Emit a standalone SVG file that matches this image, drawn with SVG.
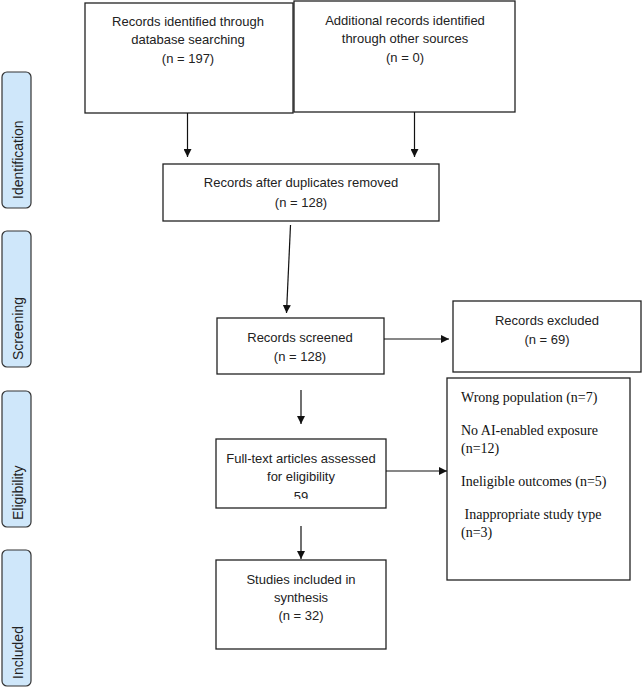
<svg xmlns="http://www.w3.org/2000/svg" width="642" height="688" viewBox="0 0 642 688">
<style>
.box{fill:#fff;stroke:#222;stroke-width:1.3}
.side{fill:#cfe7fa;stroke:#333;stroke-width:1.2}
.t{font-family:"Liberation Sans",Arial,sans-serif;font-size:13px;fill:#222;text-anchor:middle}
.s{font-family:"Liberation Sans",Arial,sans-serif;font-size:14px;fill:#222}
.r{font-family:"Liberation Serif","Times New Roman",serif;font-size:14px;fill:#111}
.c{stroke:#111;stroke-width:1.2;fill:none;marker-end:url(#ah)}
</style>
<defs>
<marker id="ah" viewBox="0 0 10 10" refX="10" refY="5" markerWidth="8" markerHeight="8" markerUnits="userSpaceOnUse" orient="auto">
<path d="M0,0 L10,5 L0,10 z" fill="#111"/>
</marker>
<clipPath id="clip59"><rect x="216" y="486" width="170" height="13"/></clipPath>
</defs>
<rect width="642" height="688" fill="#fff"/>

<g id="side-identification"><rect class="side" x="2" y="72" width="29" height="136" rx="5"/><text class="s" transform="translate(23,199) rotate(-90)">Identification</text></g>
<g id="side-screening"><rect class="side" x="2" y="231" width="29" height="136" rx="5"/><text class="s" transform="translate(23,360) rotate(-90)">Screening</text></g>
<g id="side-eligibility"><rect class="side" x="2" y="391" width="29" height="136" rx="5"/><text class="s" transform="translate(23,520) rotate(-90)">Eligibility</text></g>
<g id="side-included"><rect class="side" x="2" y="550" width="29" height="136" rx="5"/><text class="s" transform="translate(23,679) rotate(-90)">Included</text></g>

<g id="n-database"><rect class="box" x="85" y="3" width="208" height="110"/>
<text class="t" x="188" y="26">Records identified through</text>
<text class="t" x="188" y="44">database searching</text>
<text class="t" x="188" y="63">(n = 197)</text></g>

<g id="n-other"><rect class="box" x="294" y="1" width="221" height="111"/>
<text class="t" x="405" y="25">Additional records identified</text>
<text class="t" x="405" y="43">through other sources</text>
<text class="t" x="405" y="62">(n = 0)</text></g>

<g id="n-dedup"><rect class="box" x="163" y="164" width="276" height="57"/>
<text class="t" x="301" y="187">Records after duplicates removed</text>
<text class="t" x="301" y="207">(n = 128)</text></g>

<g id="n-screened"><rect class="box" x="217" y="318" width="167" height="56"/>
<text class="t" x="300" y="342">Records screened</text>
<text class="t" x="300" y="361">(n = 128)</text></g>

<g id="n-excluded"><rect class="box" x="453" y="301" width="188" height="71"/>
<text class="t" x="547" y="325">Records excluded</text>
<text class="t" x="547" y="344">(n = 69)</text></g>

<g id="n-fulltext"><rect class="box" x="216" y="439" width="170" height="69"/>
<text class="t" x="301" y="463">Full-text articles assessed</text>
<text class="t" x="301" y="481">for eligibility</text>
<text class="t" x="301" y="501" clip-path="url(#clip59)">59</text></g>

<g id="n-reasons"><rect class="box" x="447" y="378" width="183" height="202"/>
<text class="r" x="461" y="402">Wrong population (n=7)</text>
<text class="r" x="461" y="435">No AI-enabled exposure</text>
<text class="r" x="461" y="453">(n=12)</text>
<text class="r" x="461" y="486">Ineligible outcomes (n=5)</text>
<text class="r" x="461" y="519" xml:space="preserve"> Inappropriate study type</text>
<text class="r" x="461" y="537">(n=3)</text></g>

<g id="n-included"><rect class="box" x="216" y="560" width="170" height="89"/>
<text class="t" x="301" y="584">Studies included in</text>
<text class="t" x="301" y="602">synthesis</text>
<text class="t" x="301" y="620">(n = 32)</text></g>

<g id="connectors">
<line class="c" x1="187.5" y1="113" x2="187.5" y2="157"/>
<line class="c" x1="414.5" y1="112" x2="414.5" y2="157"/>
<line class="c" x1="290.5" y1="225" x2="286.5" y2="313"/>
<line class="c" x1="384" y1="339" x2="449" y2="339"/>
<line class="c" x1="301" y1="390" x2="301" y2="424"/>
<line class="c" x1="386" y1="471" x2="447" y2="471"/>
<line class="c" x1="301" y1="526" x2="301" y2="559"/>
</g>
</svg>
